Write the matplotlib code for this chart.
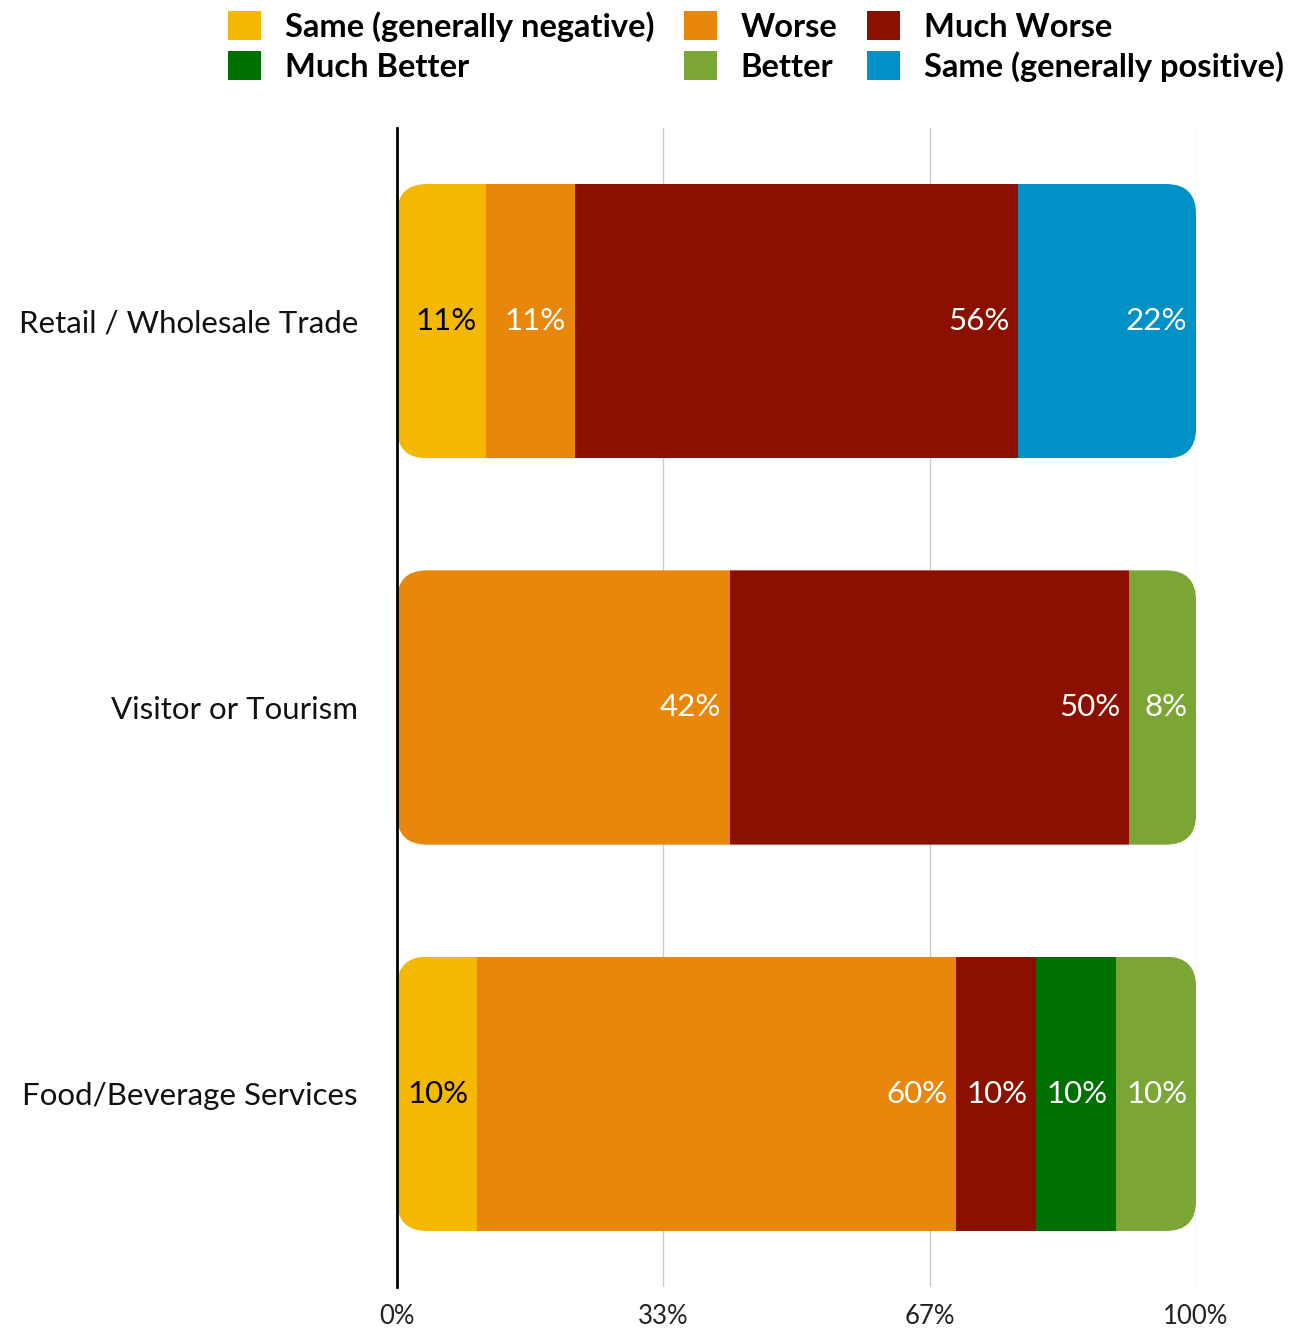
import matplotlib.pyplot as plt
from matplotlib.patches import FancyBboxPatch, Patch

plt.rcParams['font.family'] = ['Lato', 'DejaVu Sans']

categories = ['Retail / Wholesale Trade', 'Visitor or Tourism', 'Food/Beverage Services']
series = ['Same (generally negative)', 'Worse', 'Much Worse',
          'Much Better', 'Better', 'Same (generally positive)']
values = {
    'Same (generally negative)': [11.11, 0, 10],
    'Worse': [11.11, 41.67, 60],
    'Much Worse': [55.56, 50, 10],
    'Much Better': [0, 0, 10],
    'Better': [0, 8.33, 10],
    'Same (generally positive)': [22.22, 0, 0],
}
colors = {
    'Same (generally negative)': '#F5B800',
    'Worse': '#E8870B',
    'Much Worse': '#8B1000',
    'Much Better': '#007000',
    'Better': '#7BA636',
    'Same (generally positive)': '#0091C6',
}
tick_vals = [0, 100 / 3, 200 / 3, 100]
tick_labels = ['0%', '33%', '67%', '100%']

fig = plt.figure(figsize=(12.99, 13.30), dpi=100)
ax = fig.add_axes([397 / 1299, 43 / 1330, 799 / 1299, 1159 / 1330])
ax.set_xlim(0, 100)
ax.set_ylim(2.5, -0.5)

bar_h = 0.71
# rounding radius of ~30 px in both directions
px_x = 799 / 100
px_y = 1159 / 3
rad = 30 / px_x
aspect = (30 / px_y) / rad

for i, cat in enumerate(categories):
    total = sum(values[s][i] for s in series)
    clip = FancyBboxPatch((0, i - bar_h / 2), total, bar_h,
                          boxstyle=f'round,pad=0,rounding_size={rad}',
                          mutation_aspect=aspect, transform=ax.transData,
                          facecolor='none', edgecolor='none')
    ax.add_patch(clip)
    left = 0
    for s in series:
        v = values[s][i]
        if v <= 0:
            continue
        bars = ax.barh(i, v, left=left, height=bar_h, color=colors[s], zorder=2)
        for b in bars:
            b.set_clip_path(clip)
        tc = 'black' if s == 'Same (generally negative)' else 'white'
        ax.text(left + v - 1.1, i, f'{round(v)}%', ha='right', va='center',
                fontsize=22.5, color=tc, zorder=3)
        left += v

ax.set_xticks(tick_vals)
ax.set_xticklabels(tick_labels, fontsize=18.5, color='#222222')
ax.set_yticks(range(len(categories)))
ax.set_yticklabels(categories, fontsize=22.5, color='#111111')
ax.tick_params(axis='both', length=0)
ax.tick_params(axis='x', pad=12)
ax.tick_params(axis='y', pad=28)
for v in tick_vals[1:]:
    ax.axvline(v, color='#cccccc', lw=1, zorder=0)
for sp in ['top', 'right', 'bottom']:
    ax.spines[sp].set_visible(False)
ax.spines['left'].set_linewidth(2)
ax.spines['left'].set_color('black')

order = ['Same (generally negative)', 'Much Better', 'Worse', 'Better',
         'Much Worse', 'Same (generally positive)']
handles = [Patch(facecolor=colors[s], label=s) for s in order]
fig.legend(handles=handles, loc='upper left', bbox_to_anchor=(212 / 1299, 1.004),
           ncol=3, frameon=False, prop={'weight': 'bold', 'size': 23.5},
           handlelength=1.0, handleheight=1.0, handletextpad=0.74,
           columnspacing=0.9, labelspacing=0.28, borderaxespad=0.1)

plt.savefig('out.png')
